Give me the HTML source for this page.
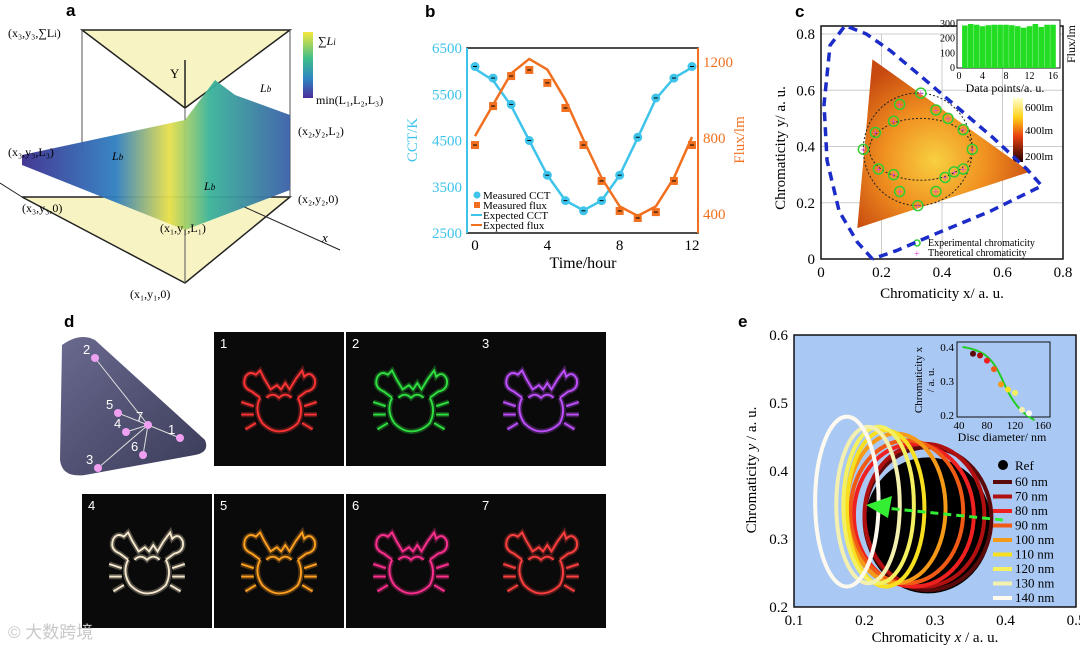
<!DOCTYPE html>
<html><head><meta charset="utf-8"><style>
body{margin:0;background:#fff;width:1080px;height:648px;overflow:hidden}
svg{font-family:"Liberation Serif",serif}
.sans{font-family:"Liberation Sans",sans-serif}
</style></head><body>
<svg id="fig" width="1080" height="648" viewBox="0 0 1080 648">
<defs>
<linearGradient id="cbA" x1="0" y1="0" x2="0" y2="1"><stop offset="0" stop-color="#f5e63a"/><stop offset="0.4" stop-color="#3fbf8a"/><stop offset="0.7" stop-color="#2e86c1"/><stop offset="1" stop-color="#4b2d9a"/></linearGradient>
<linearGradient id="surf" x1="0" y1="0" x2="1" y2="0"><stop offset="0" stop-color="#3b2f8f"/><stop offset="0.35" stop-color="#2f7fc0"/><stop offset="0.55" stop-color="#e8e04a"/><stop offset="0.7" stop-color="#3ab39a"/><stop offset="1" stop-color="#3a5fa8"/></linearGradient>
<linearGradient id="cbC" x1="0" y1="0" x2="0" y2="1"><stop offset="0" stop-color="#ffffd0"/><stop offset="0.3" stop-color="#ffd21a"/><stop offset="0.6" stop-color="#e84010"/><stop offset="1" stop-color="#200000"/></linearGradient>
<radialGradient id="triG" cx="0.45" cy="0.6" r="0.6"><stop offset="0" stop-color="#f8d040"/><stop offset="0.5" stop-color="#f09020"/><stop offset="1" stop-color="#c84a10"/></radialGradient>
<linearGradient id="cie" x1="0" y1="0" x2="1" y2="1"><stop offset="0" stop-color="#6a6a90"/><stop offset="1" stop-color="#3a3a58"/></linearGradient>
</defs>

<g>
<text x="66" y="16" class="sans" font-size="17" font-weight="bold">a</text>
<polygon points="82,30 290,30 185,108" fill="#f8f3c2" stroke="#222" stroke-width="1.5"/>
<polygon points="22,197 290,197 185,283" fill="#f8f3c2" stroke="#222" stroke-width="1.5"/>
<line x1="82" y1="30" x2="82" y2="150" stroke="#555"/><line x1="290" y1="30" x2="290" y2="197" stroke="#555"/><line x1="185" y1="108" x2="185" y2="283" stroke="#555"/>
<line x1="185" y1="108" x2="185" y2="60" stroke="#222" stroke-width="1.5"/><text x="170" y="78" font-size="13">Y</text>
<line x1="22" y1="197" x2="0" y2="183" stroke="#222"/><line x1="240" y1="205" x2="340" y2="250" stroke="#222"/><text x="322" y="242" font-size="13" font-style="italic">x</text>
<path d="M22,155 L185,120 L200,100 L215,80 L235,95 L290,115 L290,190 L185,230 L22,165 Z" fill="url(#surf)" opacity="0.95"/>
<rect x="303" y="32" width="10" height="66" fill="url(#cbA)"/>
<text x="318" y="45" font-size="12" font-style="italic">∑L<tspan font-size="9">i</tspan></text>
<text x="316" y="104" font-size="12">min(L₁,L₂,L₃)</text>
<text x="8" y="37" font-size="12">(x₃,y₃,∑L<tspan font-size="9">i</tspan>)</text>
<text x="8" y="156" font-size="12">(x₃,y₃,L₃)</text>
<text x="22" y="212" font-size="12">(x₃,y₃,0)</text>
<text x="298" y="135" font-size="12">(x₂,y₂,L₂)</text>
<text x="298" y="203" font-size="12">(x₂,y₂,0)</text>
<text x="160" y="232" font-size="12">(x₁,y₁,L₁)</text>
<text x="130" y="298" font-size="12">(x₁,y₁,0)</text>
<text x="112" y="160" font-size="12" font-style="italic">L<tspan font-size="9">b</tspan></text>
<text x="204" y="190" font-size="12" font-style="italic">L<tspan font-size="9">b</tspan></text>
<text x="260" y="92" font-size="12" font-style="italic">L<tspan font-size="9">b</tspan></text>
</g>

<g id="pb">
<text x="425" y="17" class="sans" font-size="17" font-weight="bold">b</text>
<rect x="467" y="48" width="231" height="185" fill="none" stroke="#111" stroke-width="1.5"/>
<line x1="467" y1="48" x2="467" y2="233" stroke="#3ec4ea" stroke-width="2"/>
<line x1="698" y1="48" x2="698" y2="233" stroke="#f07020" stroke-width="2"/>
<text transform="translate(417,140) rotate(-90)" text-anchor="middle" font-size="15" fill="#3ec4ea">CCT/K</text>
<text transform="translate(744,140) rotate(-90)" text-anchor="middle" font-size="15" fill="#f07020">Flux/lm</text>
<text x="583" y="268" text-anchor="middle" font-size="16">Time/hour</text>
<g class="leg" font-size="11">
<circle cx="477" cy="195" r="3.5" fill="#3ec4ea"/><text x="483" y="199">Measured CCT</text>
<rect x="474" y="202" width="6" height="6" fill="#f07020"/><text x="483" y="209">Measured flux</text>
<line x1="471" y1="215" x2="482" y2="215" stroke="#3ec4ea" stroke-width="2"/><text x="483" y="219">Expected CCT</text>
<line x1="471" y1="225" x2="482" y2="225" stroke="#f07020" stroke-width="2"/><text x="483" y="229">Expected flux</text>
</g>
</g>

<g id="pc">
<text x="795" y="17" class="sans" font-size="17" font-weight="bold">c</text>
<text transform="translate(785,148) rotate(-90)" text-anchor="middle" font-size="15">Chromaticity y/ a. u.</text>
<text x="942" y="298" text-anchor="middle" font-size="15">Chromaticity x/ a. u.</text>
<rect x="1013" y="98" width="10" height="64" fill="url(#cbC)"/>
<text x="1025" y="111" font-size="11">600lm</text><text x="1025" y="134" font-size="11">400lm</text><text x="1025" y="160" font-size="11">200lm</text>
<circle cx="917" cy="243" r="3" fill="none" stroke="#3c3" stroke-width="1.5"/><text x="928" y="246" font-size="10">Experimental chromaticity</text>
<text x="914" y="257" font-size="10" fill="#e040e0">+</text><text x="928" y="256" font-size="10">Theoretical chromaticity</text>
</g>

<g id="pd">
<text x="64" y="327" class="sans" font-size="17" font-weight="bold">d</text>
<path d="M62,345 Q80,332 95,340 L205,440 Q210,452 195,455 L85,475 Q62,478 60,460 Z" fill="url(#cie)"/>
</g>

<g id="pe">
<text x="738" y="327" class="sans" font-size="17" font-weight="bold">e</text>
<text transform="translate(756,470) rotate(-90)" text-anchor="middle" font-size="15">Chromaticity <tspan font-style="italic">y</tspan> / a. u.</text>
<text x="935" y="642" text-anchor="middle" font-size="15">Chromaticity <tspan font-style="italic">x</tspan> / a. u.</text>
</g>
<text x="8" y="638" class="sans" font-size="17" fill="#c8c8c8" font-family="'Liberation Sans','Noto Sans CJK SC',sans-serif">© 大数跨境</text>
</svg>
<script>
const NS="http://www.w3.org/2000/svg";
function mk(parent,tag,attrs,txt){const e=document.createElementNS(NS,tag);for(const k in attrs)e.setAttribute(k,attrs[k]);if(txt!==undefined)e.textContent=txt;parent.appendChild(e);return e;}

const bHours=[0,1,2,3,4,5,6,7,8,9,10,11,12];
const bMeasCCT=[6100,5850,5280,4500,3750,3200,2980,3200,3750,4570,5420,5850,6100];
const bExpCCT=[6050,5800,5250,4500,3750,3200,2990,3200,3750,4560,5400,5850,6080];
const bMeasFlux=[763,968,1126,1158,1090,958,763,574,416,379,410,574,763];
const bExpFlux=[810,975,1140,1216,1160,1000,790,590,440,390,440,590,805];
const bXTicks=[0,4,8,12];
const bCCTTicks=[2500,3500,4500,5500,6500];
const bFluxTicks=[400,800,1200];
const bx=t=>475+(t/12)*217;
const byC=v=>233-(v-2500)/4000*185;
const byF=v=>214-(v-400)*0.19;
(function(){
 const g=document.getElementById('pb');
 bXTicks.forEach(t=>{const e=mk(g,'text',{x:bx(t),y:250,'text-anchor':'middle','font-size':15},t);
 
 });
 bCCTTicks.forEach(v=>{const e=mk(g,'text',{x:462,y:byC(v)+5,'text-anchor':'end','font-size':15,fill:'#3ec4ea'},v);
 
 });
 bFluxTicks.forEach(v=>{const e=mk(g,'text',{x:703,y:byF(v)+5,'font-size':15,fill:'#f07020'},v);
 
 });
 const l1=mk(g,'polyline',{points:bHours.map((t,i)=>bx(t)+','+byC(bExpCCT[i])).join(' '),fill:'none',stroke:'#3ec4ea','stroke-width':2.5});
 
 
 const l2=mk(g,'polyline',{points:bHours.map((t,i)=>bx(t)+','+byF(bExpFlux[i])).join(' '),fill:'none',stroke:'#f07020','stroke-width':2.5});
 
 
 bHours.forEach((t,i)=>{
  const c=mk(g,'circle',{cx:bx(t),cy:byC(bMeasCCT[i]),r:4.5,fill:'#3ec4ea'});
  
  
  mk(g,'line',{x1:bx(t)-2,x2:bx(t)+2,y1:byC(bMeasCCT[i]),y2:byC(bMeasCCT[i]),stroke:'#000'});
  const r=mk(g,'rect',{x:bx(t)-4,y:byF(bMeasFlux[i])-4,width:8,height:8,fill:'#f07020'});
  
  
  mk(g,'line',{x1:bx(t)-2,x2:bx(t)+2,y1:byF(bMeasFlux[i]),y2:byF(bMeasFlux[i]),stroke:'#000'});
 });
})();

const cXTicks=[0,0.2,0.4,0.6,0.8];
const cYTicks=[0,0.2,0.4,0.6,0.8];
const cLocusX=[0.17,0.12,0.06,0.02,0.01,0.03,0.08,0.15,0.23,0.33,0.45,0.57,0.68,0.73,0.56,0.38,0.25,0.17];
const cLocusY=[0.00,0.06,0.17,0.35,0.55,0.76,0.83,0.80,0.74,0.65,0.54,0.43,0.32,0.26,0.17,0.09,0.03,0.00];
const cTriX=[0.17,0.69,0.12];
const cTriY=[0.71,0.31,0.11];
const cExpX=[0.33,0.26,0.38,0.24,0.42,0.18,0.47,0.14,0.50,0.19,0.44,0.47,0.24,0.26,0.41,0.38,0.32];
const cExpY=[0.59,0.55,0.53,0.49,0.50,0.45,0.46,0.39,0.39,0.32,0.31,0.32,0.30,0.24,0.29,0.24,0.19];
const cBarX=[1,2,3,4,5,6,7,8,9,10,11,12,13,14,15,16];
const cBarVals=[290,300,295,285,292,295,295,295,292,285,275,285,300,280,295,295];
const cBarTicks=[0,4,8,12,16];
const cBarYTicks=[0,100,200,300];
const cx=v=>821+v/0.8*242;
const cy=v=>259-v/0.8*225;
(function(){
 const g=document.getElementById('pc');
 const first=g.children[1];
 cXTicks.forEach(v=>{const l=mk(g,'line',{x1:cx(v),x2:cx(v),y1:34,y2:259,stroke:'#ccc'});g.insertBefore(l,first);});
 cYTicks.forEach(v=>{const l=mk(g,'line',{x1:821,x2:1063,y1:cy(v),y2:cy(v),stroke:'#ccc'});g.insertBefore(l,first);});
 const fr=mk(g,'rect',{x:821,y:26,width:242,height:233,fill:'none',stroke:'#111','stroke-width':1.5});
 
 
 cXTicks.forEach(v=>{const e=mk(g,'text',{x:cx(v),y:277,'text-anchor':'middle','font-size':15},String(v));
 
 });
 cYTicks.forEach(v=>{const e=mk(g,'text',{x:815,y:cy(v)+5,'text-anchor':'end','font-size':15},String(v));
 
 });
 const tri=mk(g,'polygon',{points:cTriX.map((x,i)=>cx(x)+','+cy(cTriY[i])).join(' '),fill:'url(#triG)'});
 
 
 const loc=mk(g,'polyline',{points:cLocusX.map((x,i)=>cx(x)+','+cy(cLocusY[i])).join(' '),fill:'none',stroke:'#1c2cc8','stroke-width':3.5,'stroke-dasharray':'9,6'});
 
 
 mk(g,'ellipse',{cx:cx(0.33),cy:cy(0.39),rx:cx(0.5)-cx(0.33),ry:cy(0.28)-cy(0.39),fill:'none',stroke:'#222','stroke-dasharray':'2,2'});
 mk(g,'ellipse',{cx:cx(0.32),cy:cy(0.39),rx:cx(0.5)-cx(0.32),ry:cy(0.19)-cy(0.39),fill:'none',stroke:'#222','stroke-dasharray':'2,2'});
 cExpX.forEach((x,i)=>{
  const c=mk(g,'circle',{cx:cx(x),cy:cy(cExpY[i]),r:5,fill:'none',stroke:'#3c3','stroke-width':1.5});
  
  
  const t=mk(g,'text',{x:cx(x),y:cy(cExpY[i])+4,'text-anchor':'middle','font-size':12,fill:'#e040e0'},'+');
  
  
 });
 const bx0=v=>959+v/16*94, by0=v=>68-v/300*44;
 const ib=mk(g,'rect',{x:957,y:20,width:103,height:48,fill:'#fff',stroke:'#111'});
 
 
 cBarX.forEach((x,i)=>{const r=mk(g,'rect',{x:bx0(x)-2.8,y:by0(cBarVals[i]),width:5.6,height:68-by0(cBarVals[i]),fill:'#22dd22'});
  
  });
 cBarTicks.forEach(v=>mk(g,'text',{x:bx0(v),y:79,'text-anchor':'middle','font-size':10},v));
 cBarYTicks.forEach(v=>mk(g,'text',{x:955,y:by0(v)+3,'text-anchor':'end','font-size':10},v));
 mk(g,'text',{x:1005,y:92,'text-anchor':'middle','font-size':12},'Data points/a. u.');
 mk(g,'text',{transform:'translate(1075,44) rotate(-90)','text-anchor':'middle','font-size':12},'Flux/lm');
})();

const dTiles=[[214,332,'1','#ff3535'],[346,332,'2','#30e040'],[476,332,'3','#c050ff'],[82,494,'4','#f5e8cc'],[214,494,'5','#ffa020'],[346,494,'6','#ff3090'],[476,494,'7','#ff4040']];
const dPts=[[180,438,'1'],[95,358,'2'],[98,468,'3'],[126,432,'4'],[118,413,'5'],[143,455,'6'],[148,425,'7']];
(function(){
 const g=document.getElementById('pd');
 const crab='M-18,-4 Q-24,8 -16,20 Q-8,28 0,28 Q10,28 18,20 Q24,8 18,-4 M-18,-4 L-26,-10 Q-36,-14 -32,-24 Q-28,-30 -22,-26 L-18,-30 L-14,-22 L-8,-12 L-2,-16 L2,-12 L6,-18 L10,-12 L16,-22 L22,-30 L24,-24 Q30,-30 34,-22 Q36,-12 26,-10 L18,-4 M-24,4 L-36,0 M-24,12 L-36,12 M-22,20 L-32,26 M24,4 L36,0 M24,12 L36,12 M22,20 L32,26 M-12,-4 Q-6,-10 0,-4 Q6,-10 12,-4';
 dTiles.forEach(t=>{
  const r=mk(g,'rect',{x:t[0],y:t[1],width:130,height:134,fill:'#0a0a0a'});
  
  
  mk(g,'text',{x:t[0]+6,y:t[1]+16,'font-size':13,fill:'#fff',class:'sans'},t[2]);
  mk(g,'path',{d:crab,transform:`translate(${t[0]+65},${t[1]+70}) scale(1.05)`,fill:'none',stroke:t[3],'stroke-width':5,opacity:0.3});
  mk(g,'path',{d:crab,transform:`translate(${t[0]+65},${t[1]+70}) scale(1.05)`,fill:'none',stroke:t[3],'stroke-width':1.8});
 });
 dPts.forEach(p=>{mk(g,'line',{x1:148,y1:425,x2:p[0],y2:p[1],stroke:'#ddd','stroke-width':1});});
 dPts.forEach(p=>{
  const c=mk(g,'circle',{cx:p[0],cy:p[1],r:4,fill:'#f0a0f0'});
  
  
  mk(g,'text',{x:p[0]-12,y:p[1]-4,'font-size':13,fill:'#fff',class:'sans'},p[2]);
 });
})();

const eXTicks=[0.1,0.2,0.3,0.4,0.5];
const eYTicks=[0.2,0.3,0.4,0.5,0.6];
const eLabels=['60 nm','70 nm','80 nm','90 nm','100 nm','110 nm','120 nm','130 nm','140 nm'];
const eColors=['#5a0a0a','#b01010','#ee2020','#f05a14','#f59a18','#f8e020','#f4f060','#f4f0b0','#fffaf0'];
const eCenterX=[0.29,0.285,0.27,0.26,0.245,0.23,0.22,0.205,0.175];
const eCenterY=[0.33,0.335,0.335,0.34,0.345,0.345,0.35,0.35,0.355];
const eRadX=[0.09,0.085,0.085,0.08,0.07,0.055,0.05,0.045,0.045];
const eRadY=[0.105,0.105,0.105,0.105,0.11,0.115,0.115,0.115,0.125];
const eInsetX=[60,70,80,90,100,110,120,130,140];
const eInsetY=[0.38,0.375,0.36,0.335,0.29,0.275,0.265,0.215,0.205];
const eInsetTicksX=[40,80,120,160];
const eInsetTicksY=[0.2,0.3,0.4];
const ex=v=>794+(v-0.1)/0.4*282;
const ey=v=>607-(v-0.2)/0.4*272;
(function(){
 const g=document.getElementById('pe');
 const bg=mk(g,'rect',{x:794,y:335,width:282,height:272,fill:'#a9c8f4',stroke:'#111','stroke-width':1.5});
 
 
 eXTicks.forEach(v=>{const e=mk(g,'text',{x:ex(v),y:625,'text-anchor':'middle','font-size':15},String(v));
 
 });
 eYTicks.forEach(v=>{const e=mk(g,'text',{x:788,y:ey(v)+5,'text-anchor':'end','font-size':15},String(v));
 
 });
 const ref=mk(g,'ellipse',{cx:ex(0.29),cy:ey(0.32),rx:ex(0.38)-ex(0.29),ry:ey(0.22)-ey(0.32),fill:'#000'});
 
 
 eLabels.forEach((lab,i)=>{
  const e=mk(g,'ellipse',{cx:ex(eCenterX[i]),cy:ey(eCenterY[i]),rx:ex(eRadX[i]+0.1)-ex(0.1),ry:ey(0.2)-ey(0.2+eRadY[i]),fill:'none',stroke:eColors[i],'stroke-width':4});
  
  
 });
 mk(g,'line',{x1:1003,y1:520,x2:885,y2:508,stroke:'#33ee33','stroke-width':3,'stroke-dasharray':'8,5'});
 mk(g,'polygon',{points:'866,505 892,496 888,518',fill:'#33ee33'});
 mk(g,'circle',{cx:1003,cy:465,r:5,fill:'#000'});mk(g,'text',{x:1015,y:470,'font-size':13},'Ref');
 eLabels.forEach((lab,i)=>{const y=482+i*14.5;
  mk(g,'line',{x1:993,x2:1012,y1:y,y2:y,stroke:eColors[i],'stroke-width':4});
  const t=mk(g,'text',{x:1015,y:y+4,'font-size':13},lab);
  
  });
 const ix=v=>959+(v-40)/120*84, iy=v=>347+(0.4-v)/0.2*68;
 const ib=mk(g,'rect',{x:957,y:342,width:93,height:75,fill:'#a9c8f4',stroke:'#111'});
 
 
 mk(g,'path',{d:`M${ix(45)},${iy(0.4)} C${ix(80)},${iy(0.39)} ${ix(90)},${iy(0.36)} ${ix(105)},${iy(0.29)} S${ix(135)},${iy(0.2)} ${ix(148)},${iy(0.185)}`,fill:'none',stroke:'#22cc22','stroke-width':2});
 eInsetX.forEach((x,i)=>{const c=mk(g,'circle',{cx:ix(x),cy:iy(eInsetY[i]),r:3,fill:eColors[i]});
  
  });
 eInsetTicksX.forEach(v=>mk(g,'text',{x:ix(v),y:429,'text-anchor':'middle','font-size':11},v));
 eInsetTicksY.forEach(v=>mk(g,'text',{x:954,y:iy(v)+4,'text-anchor':'end','font-size':11},String(v)));
 mk(g,'text',{x:1002,y:441,'text-anchor':'middle','font-size':12},'Disc diameter/ nm');
 mk(g,'text',{transform:'translate(922,380) rotate(-90)','text-anchor':'middle','font-size':11},'Chromaticity x');
 mk(g,'text',{transform:'translate(934,380) rotate(-90)','text-anchor':'middle','font-size':11},'/ a. u.');
})();
</script>
</body></html>
